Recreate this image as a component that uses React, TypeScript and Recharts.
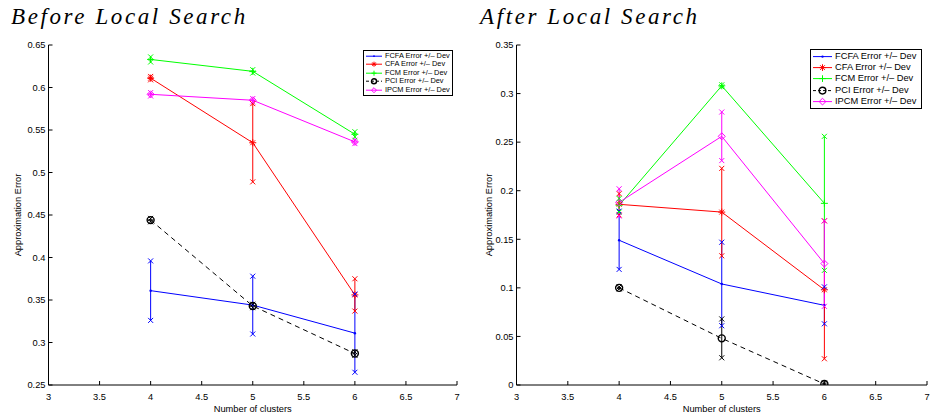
import React from "react";
import { ComposedChart, Line, XAxis, YAxis, ErrorBar, Legend, Label } from "recharts";

const clusters = [4, 5, 6];

// before local search: means and deviations
const fcfaBefore = [0.361, 0.344, 0.311];
const fcfaBeforeDev = [0.035, 0.034, 0.046];
const cfaBefore = [0.611, 0.535, 0.356];
const cfaBeforeDev = [0.002, 0.046, 0.019];
const fcmBefore = [0.633, 0.619, 0.545];
const fcmBeforeDev = [0.003, 0.002, 0.003];
const pciBefore = [0.444, 0.343, 0.287];
const pciBeforeDev = [0.002, 0.002, 0.002];
const ipcmBefore = [0.592, 0.585, 0.536];
const ipcmBeforeDev = [0.002, 0.002, 0.002];

// after local search
const fcfaAfter = [0.149, 0.104, 0.082];
const fcfaAfterDev = [0.03, 0.043, 0.019];
const cfaAfter = [0.186, 0.178, 0.098];
const cfaAfterDev = [0.011, 0.045, 0.071];
const fcmAfter = [0.185, 0.308, 0.187];
const fcmAfterDev = [0.007, 0.001, 0.069];
const pciAfter = [0.1, 0.048, 0.001];
const pciAfterDev = [0.001, 0.02, 0.001];
const ipcmAfter = [0.188, 0.256, 0.125];
const ipcmAfterDev = [0.014, 0.025, 0.044];

const xTicks = [3, 3.5, 4, 4.5, 5, 5.5, 6, 6.5, 7];
const beforeTicks = [0.25, 0.3, 0.35, 0.4, 0.45, 0.5, 0.55, 0.6, 0.65];
const afterTicks = [0, 0.05, 0.1, 0.15, 0.2, 0.25, 0.3, 0.35];

const SANS = "'Liberation Sans', Arial, sans-serif";

type Kind = "point" | "star" | "plus" | "circle" | "diamond" | "x";

const SERIES: { key: string; name: string; color: string; dash?: string; marker: Kind }[] = [
  { key: "fcfa", name: "FCFA Error +/– Dev", color: "#0000ff", marker: "point" },
  { key: "cfa", name: "CFA Error +/– Dev", color: "#ff0000", marker: "star" },
  { key: "fcm", name: "FCM Error +/– Dev", color: "#00ff00", marker: "plus" },
  { key: "pci", name: "PCI Error +/– Dev", color: "#000000", dash: "5 4", marker: "circle" },
  { key: "ipcm", name: "IPCM Error +/– Dev", color: "#ff00ff", marker: "diamond" },
];

function buildRows(means: Record<string, number[]>, devs: Record<string, number[]>) {
  return clusters.map((n, i) => {
    const row: Record<string, number> = { n };
    for (const k of Object.keys(means)) {
      row[k] = means[k][i];
      row[k + "Err"] = devs[k][i];
      row[k + "Hi"] = means[k][i] + devs[k][i];
      row[k + "Lo"] = means[k][i] - devs[k][i];
    }
    return row;
  });
}

const beforeRows = buildRows(
  { fcfa: fcfaBefore, cfa: cfaBefore, fcm: fcmBefore, pci: pciBefore, ipcm: ipcmBefore },
  { fcfa: fcfaBeforeDev, cfa: cfaBeforeDev, fcm: fcmBeforeDev, pci: pciBeforeDev, ipcm: ipcmBeforeDev }
);
const afterRows = buildRows(
  { fcfa: fcfaAfter, cfa: cfaAfter, fcm: fcmAfter, pci: pciAfter, ipcm: ipcmAfter },
  { fcfa: fcfaAfterDev, cfa: cfaAfterDev, fcm: fcmAfterDev, pci: pciAfterDev, ipcm: ipcmAfterDev }
);

function Marker({ kind, x, y, color, s = 3.5 }: { kind: Kind; x: number; y: number; color: string; s?: number }) {
  if (x == null || y == null || isNaN(x) || isNaN(y)) return null;
  switch (kind) {
    case "point":
      return <circle cx={x} cy={y} r={s * 0.35} fill={color} />;
    case "star":
      return (
        <g stroke={color} strokeWidth={1}>
          <line x1={x - s} y1={y} x2={x + s} y2={y} />
          <line x1={x} y1={y - s} x2={x} y2={y + s} />
          <line x1={x - s * 0.7} y1={y - s * 0.7} x2={x + s * 0.7} y2={y + s * 0.7} />
          <line x1={x - s * 0.7} y1={y + s * 0.7} x2={x + s * 0.7} y2={y - s * 0.7} />
        </g>
      );
    case "plus":
      return (
        <g stroke={color} strokeWidth={1}>
          <line x1={x - s} y1={y} x2={x + s} y2={y} />
          <line x1={x} y1={y - s} x2={x} y2={y + s} />
        </g>
      );
    case "circle":
      return <circle cx={x} cy={y} r={s} fill="none" stroke={color} strokeWidth={1.4} />;
    case "diamond":
      return (
        <polygon
          points={`${x},${y - s} ${x + s},${y} ${x},${y + s} ${x - s},${y}`}
          fill="none"
          stroke={color}
          strokeWidth={1}
        />
      );
    case "x":
      return (
        <g stroke={color} strokeWidth={1}>
          <line x1={x - s} y1={y - s} x2={x + s} y2={y + s} />
          <line x1={x - s} y1={y + s} x2={x + s} y2={y - s} />
        </g>
      );
  }
}

const dotFn = (kind: Kind, color: string, s?: number) => (p: any) => (
  <Marker key={`${kind}-${color}-${p.index}-${p.cy}`} kind={kind} x={p.cx} y={p.cy} color={color} s={s} />
);

function legendContent(font: number, rowH: number, iconW: number, pad: string) {
  return () => (
    <div
      style={{
        border: "1px solid #000",
        background: "#fff",
        padding: pad,
        fontFamily: SANS,
        fontSize: font,
        lineHeight: `${rowH}px`,
        color: "#000",
      }}
    >
      {SERIES.map((s) => (
        <div key={s.key} style={{ display: "flex", alignItems: "center", whiteSpace: "nowrap", height: rowH }}>
          <svg width={iconW} height={rowH} style={{ display: "block" }}>
            <line x1={0} x2={iconW} y1={rowH / 2} y2={rowH / 2} stroke={s.color} strokeDasharray={s.dash ? "3 2" : undefined} />
            <Marker kind={s.marker} x={iconW / 2} y={rowH / 2} color={s.color} s={rowH * 0.3} />
          </svg>
          <span style={{ marginLeft: 3 }}>{s.name}</span>
        </div>
      ))}
    </div>
  );
}

type PanelProps = {
  rows: Record<string, number>[];
  domain: [number, number];
  yTicks: number[];
  left: number;
  yAxisWidth: number;
  marginRight: number;
  yLabelOffset: number;
  title: string;
  titleLeft: number;
  legend: { top: number; left: number; width: number; font: number; rowH: number; iconW: number; pad: string };
};

function Panel(p: PanelProps) {
  const W = 465;
  const H = 419;
  return (
    <div style={{ position: "absolute", left: p.left, top: 0, width: W, height: H }}>
      <ComposedChart width={W} height={H} data={p.rows} margin={{ top: 45, right: p.marginRight, bottom: 14, left: 0 }}>
        <XAxis
          dataKey="n"
          type="number"
          domain={[3, 7]}
          ticks={xTicks}
          allowDataOverflow
          height={20}
          tickSize={-4}
          tickMargin={12}
          axisLine={{ stroke: "#000" }}
          tickLine={{ stroke: "#000" }}
          tick={{ fontSize: 9.3, fill: "#000", fontFamily: SANS }}
        >
          <Label value="Number of clusters" position="bottom" offset={0} style={{ fontSize: 9.3, fill: "#000", fontFamily: SANS }} />
        </XAxis>
        <YAxis
          type="number"
          domain={p.domain}
          ticks={p.yTicks}
          allowDataOverflow
          width={p.yAxisWidth}
          tickSize={-4}
          tickMargin={7}
          tickFormatter={(v: number) => String(v)}
          axisLine={{ stroke: "#000" }}
          tickLine={{ stroke: "#000" }}
          tick={{ fontSize: 9.3, fill: "#000", fontFamily: SANS }}
        >
          <Label
            value="Approximation Error"
            angle={-90}
            position="insideLeft"
            offset={p.yLabelOffset}
            style={{ fontSize: 9.3, fill: "#000", fontFamily: SANS, textAnchor: "middle" }}
          />
        </YAxis>
        {SERIES.map((s) => (
          <Line
            key={s.key}
            dataKey={s.key}
            name={s.name}
            stroke={s.color}
            strokeWidth={1}
            strokeDasharray={s.dash}
            dot={dotFn(s.marker, s.color)}
            activeDot={false}
            isAnimationActive={false}
          >
            <ErrorBar dataKey={s.key + "Err"} direction="y" width={0} stroke={s.color} strokeWidth={1} isAnimationActive={false} />
          </Line>
        ))}
        {SERIES.map((s) => (
          <Line
            key={s.key + "Hi"}
            dataKey={s.key + "Hi"}
            stroke="none"
            dot={dotFn("x", s.color, 2.5)}
            activeDot={false}
            legendType="none"
            isAnimationActive={false}
          />
        ))}
        {SERIES.map((s) => (
          <Line
            key={s.key + "Lo"}
            dataKey={s.key + "Lo"}
            stroke="none"
            dot={dotFn("x", s.color, 2.5)}
            activeDot={false}
            legendType="none"
            isAnimationActive={false}
          />
        ))}
        <Legend
          verticalAlign="middle"
          align="center"
          content={legendContent(p.legend.font, p.legend.rowH, p.legend.iconW, p.legend.pad)}
          wrapperStyle={{ top: p.legend.top, left: p.legend.left, width: p.legend.width }}
        />
      </ComposedChart>
      <div
        style={{
          position: "absolute",
          left: p.titleLeft,
          top: 4,
          fontFamily: "'Liberation Serif', 'DejaVu Serif', serif",
          fontStyle: "italic",
          fontSize: 23,
          letterSpacing: 2.6,
          whiteSpace: "nowrap",
          color: "#000",
        }}
      >
        {p.title}
      </div>
    </div>
  );
}

export default function App() {
  return (
    <div style={{ position: "relative", width: 930, height: 419, background: "#fff" }}>
      <style>{"body{margin:0}"}</style>
      <Panel
        rows={beforeRows}
        domain={[0.25, 0.65]}
        yTicks={beforeTicks}
        left={0}
        yAxisWidth={48.5}
        marginRight={8}
        yLabelOffset={18}
        title="Before Local Search"
        titleLeft={11}
        legend={{ top: 50, left: 363, width: 90, font: 7.4, rowH: 8.4, iconW: 16, pad: "1px 2px" }}
      />
      <Panel
        rows={afterRows}
        domain={[0, 0.35]}
        yTicks={afterTicks}
        left={465}
        yAxisWidth={51.5}
        marginRight={3}
        yLabelOffset={24}
        title="After Local Search"
        titleLeft={15}
        legend={{ top: 49, left: 345, width: 112, font: 9.3, rowH: 11.2, iconW: 19, pad: "1px 2px" }}
      />
    </div>
  );
}
